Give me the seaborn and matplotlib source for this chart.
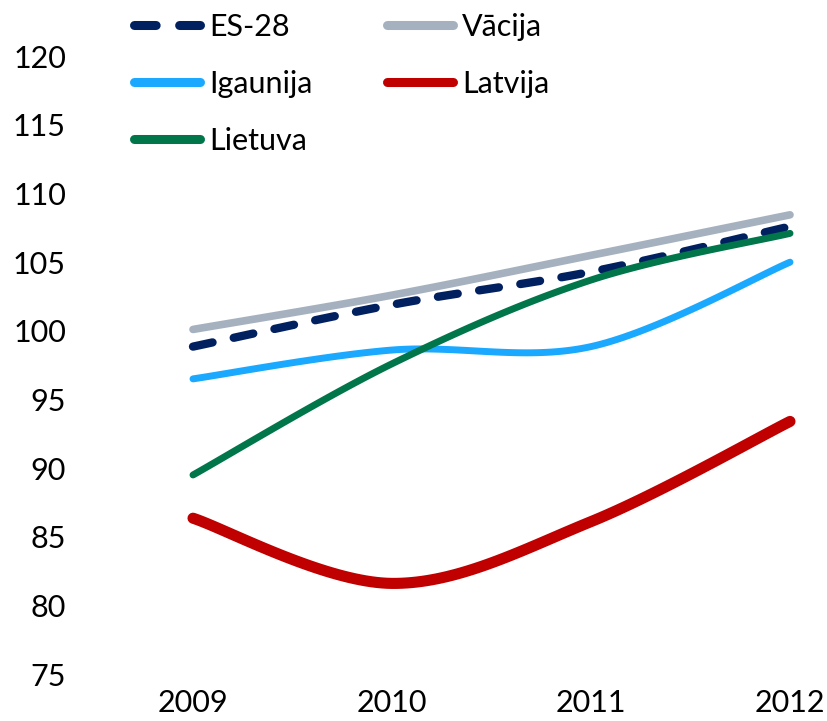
import numpy as np
import pandas as pd
import matplotlib
matplotlib.use("Agg")
import matplotlib.pyplot as plt
import seaborn as sns

years = ["2009", "2010", "2011", "2012"]
es28 = [98.85, 101.9, 104.3, 107.6]
vacija = [100.1, 102.6, 105.5, 108.45]
igaunija = [96.5, 98.6, 98.85, 105.0]
latvija = [86.35, 81.6, 86.1, 93.4]
lietuva = [89.5, 97.6, 103.7, 107.1]
series_names = ["ES-28", "Vācija", "Igaunija", "Latvija", "Lietuva"]
series_values = [es28, vacija, igaunija, latvija, lietuva]
yticks = [75, 80, 85, 90, 95, 100, 105, 110, 115, 120]

colors = {"ES-28": "#002060", "Vācija": "#A6B1BF", "Igaunija": "#1BA9FF",
          "Latvija": "#C00000", "Lietuva": "#00764A"}
widths = {"ES-28": 6.0, "Vācija": 5.5, "Igaunija": 5.0, "Latvija": 8.0, "Lietuva": 5.0}

def smooth(y, n=40):
    """Excel-like smoothed line (Catmull-Rom as cubic Bezier) for rendering."""
    x = np.arange(len(y), dtype=float)
    y = np.asarray(y, dtype=float)
    xs, ys = [], []
    for i in range(len(y) - 1):
        p0 = np.array([x[max(i - 1, 0)], y[max(i - 1, 0)]])
        p1 = np.array([x[i], y[i]])
        p2 = np.array([x[i + 1], y[i + 1]])
        p3 = np.array([x[min(i + 2, len(y) - 1)], y[min(i + 2, len(y) - 1)]])
        c1 = p1 + (p2 - p0) / 6.0
        c2 = p2 - (p3 - p1) / 6.0
        t = np.linspace(0, 1, n, endpoint=(i == len(y) - 2))[:, None]
        pts = ((1 - t) ** 3) * p1 + 3 * ((1 - t) ** 2) * t * c1 + 3 * (1 - t) * t ** 2 * c2 + t ** 3 * p2
        xs.extend(pts[:, 0]); ys.extend(pts[:, 1])
    return np.array(xs), np.array(ys)

rows = []
for name, vals in zip(series_names, series_values):
    xs, ys = smooth(vals)
    for a, b in zip(xs, ys):
        rows.append({"x": a, "value": b, "series": name})
df = pd.DataFrame(rows)

sns.set_theme(style="white")
plt.rcParams["font.family"] = ["Lato", "DejaVu Sans"]
FS = 22

fig = plt.figure(figsize=(8.27, 7.21), dpi=100)
W, H = 827, 721
left_px, right_px = 133.3, 809.9
top_px, bot_px = 0, 674
ax = fig.add_axes([left_px / W, (H - bot_px) / H, (right_px - left_px) / W, (bot_px - top_px) / H])

for name in series_names:
    sub = df[df["series"] == name]
    sns.lineplot(data=sub, x="x", y="value", ax=ax, color=colors[name],
                 linewidth=widths[name], label=name, sort=False,
                 estimator=None, solid_capstyle="round", dash_capstyle="round")
    if name == "ES-28":
        ax.lines[-1].set_dashes([2.4, 2.6])

handles, labels = ax.get_legend_handles_labels()
if ax.get_legend() is not None:
    ax.get_legend().remove()

ax.set_xlim(-0.3, 3.1)
ax.set_ylim(75, 124.1)
ax.set_xticks(range(len(years)))
ax.set_xticklabels(years)
ax.set_yticks(yticks)
ax.set_xlabel("")
ax.set_ylabel("")
for s in ax.spines.values():
    s.set_visible(False)
ax.tick_params(axis="y", length=0, pad=(left_px - 66) * 72 / 100, labelsize=FS, labelcolor="black")
ax.tick_params(axis="x", length=0, pad=11, labelsize=FS, labelcolor="black")

order = ["ES-28", "Igaunija", "Lietuva", "Vācija", "Latvija"]
hmap = dict(zip(labels, handles))
leg = fig.legend([hmap[k] for k in order], order, ncol=2, loc="upper left",
                 bbox_to_anchor=(134 / W, 1 - 13 / H), bbox_transform=fig.transFigure,
                 frameon=False, fontsize=FS, borderpad=0, borderaxespad=0,
                 handlelength=2.15, handletextpad=0.3, columnspacing=2.46,
                 labelspacing=0.95)
for t in leg.get_texts():
    t.set_color("black")
for h in leg.get_lines():
    h.set_linewidth(6.5)
    h.set_solid_capstyle("round")
    h.set_dash_capstyle("round")

fig.savefig("out.png", dpi=100)
